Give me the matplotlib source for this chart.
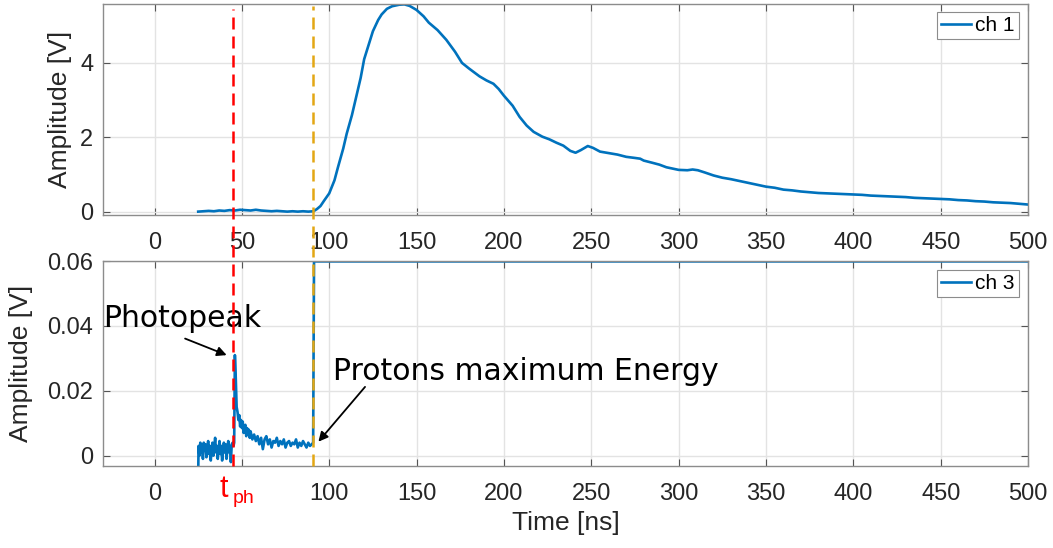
# Two-channel scope trace: ch 1 (top) and ch 3 (bottom)
# with photopeak / proton-energy markers

import matplotlib.pyplot as plt
from matplotlib.lines import Line2D
from matplotlib import transforms

# ---------- DATA ----------
ch1_t = [25, 28, 31, 34, 37, 40, 43, 46, 49, 52, 55, 58, 61, 64, 67, 70, 73, 76, 79, 82, 85, 88, 91,
         93, 95, 97, 100, 103, 105, 108, 110, 113, 115, 118, 120, 123, 125, 128, 130, 133, 136, 140,
         143, 146, 150, 154, 157, 162, 167, 172, 176, 180, 186, 190, 194, 197, 200, 205, 209, 213,
         217, 222, 226, 230, 234, 238, 241, 244, 248, 251, 255, 260, 265, 270, 275, 278, 280, 285,
         289, 293, 297, 300, 305, 308, 311, 315, 320, 325, 330, 335, 340, 346, 350, 355, 360, 365,
         370, 375, 380, 385, 390, 395, 400, 405, 410, 415, 420, 425, 430, 435, 440, 445, 450, 455,
         460, 465, 470, 475, 480, 485, 490, 495, 500]
ch1_v = [0.01, 0.02, 0.03, 0.02, 0.04, 0.03, 0.05, 0.04, 0.06, 0.05, 0.04, 0.06, 0.04, 0.03, 0.02,
         0.03, 0.02, 0.01, 0.02, 0.01, 0.02, 0.01, 0.02,
         0.08, 0.16, 0.3, 0.5, 0.85, 1.2, 1.7, 2.1, 2.6, 3.0, 3.6, 4.1, 4.55, 4.85, 5.15, 5.3, 5.45,
         5.52, 5.56, 5.57, 5.53, 5.42, 5.25, 5.08, 4.88, 4.62, 4.3, 4.0, 3.85, 3.64, 3.53, 3.44, 3.3,
         3.12, 2.85, 2.55, 2.32, 2.15, 2.02, 1.95, 1.86, 1.78, 1.64, 1.59, 1.66, 1.77, 1.72, 1.62,
         1.58, 1.54, 1.48, 1.45, 1.43, 1.38, 1.32, 1.27, 1.2, 1.16, 1.13, 1.12, 1.14, 1.12, 1.06,
         0.98, 0.92, 0.88, 0.83, 0.78, 0.72, 0.68, 0.65, 0.6, 0.58, 0.55, 0.53, 0.51, 0.5, 0.49,
         0.48, 0.47, 0.46, 0.44, 0.43, 0.42, 0.41, 0.4, 0.38, 0.37, 0.36, 0.35, 0.34, 0.32, 0.31,
         0.29, 0.28, 0.26, 0.25, 0.24, 0.22, 0.2]

ch3_t = [25.0, 25.2, 25.7, 26.2, 26.7, 27.2, 27.7, 28.2, 28.7, 29.2, 29.7, 30.2, 30.7, 31.2, 31.7,
         32.2, 32.7, 33.2, 33.7, 34.2, 34.7, 35.2, 35.7, 36.2, 36.7, 37.2, 37.7, 38.2, 38.7, 39.2,
         39.7, 40.2, 40.7, 41.2, 41.7, 42.2, 42.7, 43.2, 43.7, 44.2, 44.7, 45.2, 45.6, 46.0, 46.5,
         47.0, 47.5, 48.0, 48.5, 49.0, 49.5, 50.0, 50.5, 51.0, 51.5, 52.0, 52.5, 53.0, 53.5, 54.0,
         54.5, 55.0, 56.0, 57.0, 58.0, 59.0, 60.0, 61.0, 62.0, 63.0, 64.0, 65.0, 66.0, 67.0, 68.0,
         69.0, 70.0, 71.0, 72.0, 73.0, 74.0, 75.0, 76.0, 77.0, 78.0, 79.0, 80.0, 81.0, 82.0, 83.0,
         84.0, 85.0, 86.0, 87.0, 88.0, 89.0, 90.0, 90.8, 91.3, 500.0]
ch3_v = [-0.006, 0.003, 0.0, 0.004, 0.001, 0.003, -0.001, 0.004, 0.0015, 0.0035, -0.0005, 0.002,
         0.0045, 0.0005, 0.003, -0.0015, 0.002, 0.004, 0.0, 0.0025, 0.0055, 0.001, 0.003, -0.001,
         0.002, 0.0045, 0.0005, 0.003, -0.0015, 0.0015, 0.004, 0.001, 0.0035, -0.001, 0.002, 0.0045,
         0.001, 0.003, -0.002, 0.0035, 0.004, 0.003, 0.004, 0.031, 0.024, 0.015, 0.0135, 0.011,
         0.0125, 0.009, 0.011, 0.0085, 0.0105, 0.007, 0.009, 0.0095, 0.006, 0.0085, 0.0065, 0.008,
         0.0055, 0.0075, 0.005, 0.0065, 0.0045, 0.006, 0.0035, 0.0055, 0.002, 0.005, 0.006, 0.0035,
         0.005, 0.0025, 0.0045, 0.004, 0.0055, 0.003, 0.0045, 0.0035, 0.005, 0.0025, 0.004, 0.0045,
         0.003, 0.004, 0.0035, 0.005, 0.0025, 0.004, 0.003, 0.0045, 0.0035, 0.0025, 0.004, 0.003,
         0.0035, 0.004, 0.0599, 0.0599]

x_ticks = [0, 50, 100, 150, 200, 250, 300, 350, 400, 450, 500]
x_ticklabels_top = ["0", "50", "100", "150", "200", "250", "300", "350", "400", "450", "500"]
x_ticklabels_bottom = ["0", "", "100", "150", "200", "250", "300", "350", "400", "450", "500"]
ch1_yticks = [0, 2, 4]
ch3_yticks = [0, 0.02, 0.04, 0.06]
ch3_yticklabels = ["0", "0.02", "0.04", "0.06"]

t_ph = 45.1      # photopeak time [ns]
t_pmax = 90.9    # protons maximum energy time [ns]

# ---------- STYLE ----------
BLUE = "#0072BD"
RED = "#FF0000"
ORANGE = "#E3A714"
TXT = "#262626"
plt.rcParams["font.family"] = ["Liberation Sans", "DejaVu Sans"]

fig = plt.figure(figsize=(10.53, 5.48), dpi=100)
ax1 = fig.add_axes([0.0978, 0.6077, 0.8785, 0.385])
ax2 = fig.add_axes([0.0978, 0.1496, 0.8785, 0.374])


def style_axes(ax):
    ax.set_xlim(-29.5, 500)
    ax.set_xticks(x_ticks)
    ax.grid(True, color="#e3e3e3", linewidth=1.0)
    ax.set_axisbelow(True)
    ax.tick_params(direction="in", top=True, right=True, length=5, width=0.8,
                   color="#555555", labelsize=17, labelcolor=TXT)
    ax.tick_params(axis="x", pad=12)
    ax.tick_params(axis="y", pad=7)
    for s in ax.spines.values():
        s.set_color("#8c8c8c")
        s.set_linewidth(1.0)


# ---------- TOP: ch 1 ----------
ax1.plot(ch1_t, ch1_v, color=BLUE, linewidth=1.9, label="ch 1")
style_axes(ax1)
ax1.set_xticklabels(x_ticklabels_top)
ax1.set_ylim(-0.08, 5.58)
ax1.set_yticks(ch1_yticks)
ax1.set_ylabel("Amplitude [V]", fontsize=19, color=TXT)
ax1.yaxis.set_label_coords(-0.0335, 0.5)
leg1 = ax1.legend(loc="upper right", bbox_to_anchor=(1 - 9 / 925, 1 - 8 / 211), borderaxespad=0,
                  fontsize=15, handlelength=1.45, handletextpad=0.2, borderpad=0.2,
                  fancybox=False, framealpha=1, edgecolor="#8c8c8c")
leg1.get_frame().set_linewidth(0.8)

# ---------- BOTTOM: ch 3 ----------
ax2.plot(ch3_t, ch3_v, color=BLUE, linewidth=1.9, label="ch 3")
style_axes(ax2)
ax2.set_xticklabels(x_ticklabels_bottom)
ax2.set_ylim(-0.0032, 0.06)
ax2.set_yticks(ch3_yticks)
ax2.set_yticklabels(ch3_yticklabels)
ax2.set_ylabel("Amplitude [V]", fontsize=19, color=TXT)
ax2.yaxis.set_label_coords(-0.0757, 0.5)
ax2.set_xlabel("Time [ns]", fontsize=19, color=TXT, va="top")
ax2.xaxis.set_label_coords(0.5, -0.2195)
leg2 = ax2.legend(loc="upper right", bbox_to_anchor=(1 - 9 / 925, 1 - 9 / 205), borderaxespad=0,
                  fontsize=15, handlelength=1.45, handletextpad=0.2, borderpad=0.2,
                  fancybox=False, framealpha=1, edgecolor="#8c8c8c")
leg2.get_frame().set_linewidth(0.8)

# annotations
ax2.text(-29.5, 0.0397, "Photopeak", fontsize=21.5, family="DejaVu Sans", color="black",
         va="baseline", ha="left")
ax2.annotate("", xy=(41.3, 0.031), xytext=(17.5, 0.0361),
             arrowprops=dict(arrowstyle="-|>", color="black", lw=1.3, mutation_scale=14,
                             shrinkA=0, shrinkB=0))
ax2.text(102.2, 0.0233, "Protons maximum Energy", fontsize=21.5, family="DejaVu Sans",
         color="black", va="baseline", ha="left")
ax2.annotate("", xy=(93.8, 0.0043), xytext=(120.5, 0.0212),
             arrowprops=dict(arrowstyle="-|>", color="black", lw=1.3, mutation_scale=14,
                             shrinkA=0, shrinkB=0))

# vertical markers spanning both panels
trans = transforms.blended_transform_factory(ax2.transData, fig.transFigure)
fig.add_artist(Line2D([t_ph, t_ph], [0.1496, 0.9836], transform=trans, color=RED,
                      linewidth=1.8, linestyle=(0, (4.8, 2.8))))
fig.add_artist(Line2D([t_pmax, t_pmax], [0.1496, 0.989], transform=trans, color=ORANGE,
                      linewidth=1.8, linestyle=(0, (4.8, 2.8))))

# t_ph label (takes the place of the "50" tick label on the lower panel)
fig.text(220 / 1053, 1 - 497 / 548, "t", fontsize=22, color=RED, va="baseline", ha="left")
fig.text(233 / 1053, 1 - 503 / 548, "ph", fontsize=14, color=RED, va="baseline", ha="left")

fig.savefig("out.png", dpi=100)
